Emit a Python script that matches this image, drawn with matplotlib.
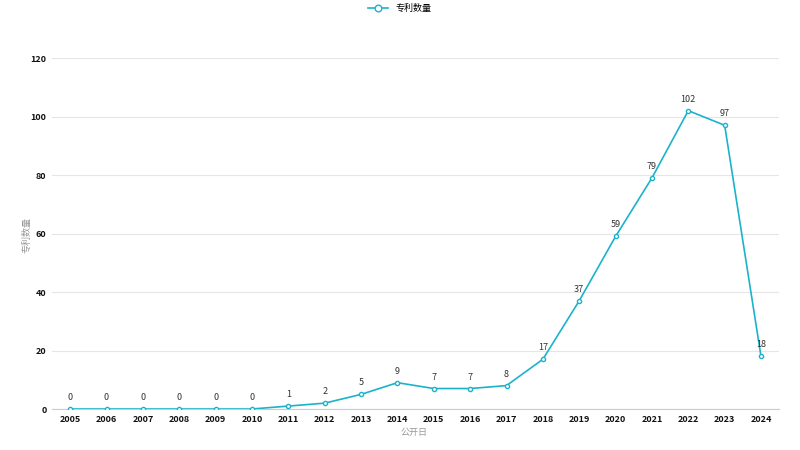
import matplotlib
matplotlib.use('Agg')
import matplotlib.pyplot as plt

plt.rcParams['font.family'] = ['Noto Sans CJK SC', 'DejaVu Sans']

years = [str(y) for y in range(2005, 2025)]
counts = [0, 0, 0, 0, 0, 0, 1, 2, 5, 9, 7, 7, 8, 17, 37, 59, 79, 102, 97, 18]
y_ticks = [0, 20, 40, 60, 80, 100, 120]

line_color = '#1bb3cb'

fig = plt.figure(figsize=(8, 4.5), dpi=100)
ax = fig.add_axes([0.065, 0.0911, 0.909, 0.78])

x = list(range(len(years)))
ax.plot(x, counts, color=line_color, lw=1.2, marker='o', ms=3.0,
        mfc='white', mec=line_color, mew=1.0, label='专利数量', zorder=3)
for xi, v in zip(x, counts):
    ax.annotate(str(v), (xi, v), xytext=(0, 5), textcoords='offset points',
                ha='center', va='bottom', fontsize=6.5, color='#333333')

ax.set_xlim(-0.5, len(years) - 0.5)
ax.set_ylim(0, 120)
ax.set_xticks(x)
ax.set_xticklabels(years, fontsize=6.5, fontweight='bold', color='#111111')
ax.set_yticks(y_ticks)
ax.set_yticklabels([str(t) for t in y_ticks], fontsize=6.5, fontweight='bold', color='#111111')
ax.tick_params(axis='both', length=0, pad=4)
ax.grid(axis='y', color='#e6e6e6', lw=0.8)
ax.set_axisbelow(True)
for s in ['top', 'right', 'left']:
    ax.spines[s].set_visible(False)
ax.spines['bottom'].set_color('#cccccc')

fig.text(0.034, 0.478, '专利数量', rotation=90, ha='center', va='center',
         fontsize=6.5, color='#999999')
fig.text(0.517, 0.04, '公开日', ha='center', va='center', fontsize=6.5, color='#999999')

fig.legend(loc='upper center', bbox_to_anchor=(0.5, 1.0), frameon=False,
           fontsize=6.5, handlelength=2.2, markerscale=1.6, borderaxespad=0.05)

fig.savefig('out.png', dpi=100)
